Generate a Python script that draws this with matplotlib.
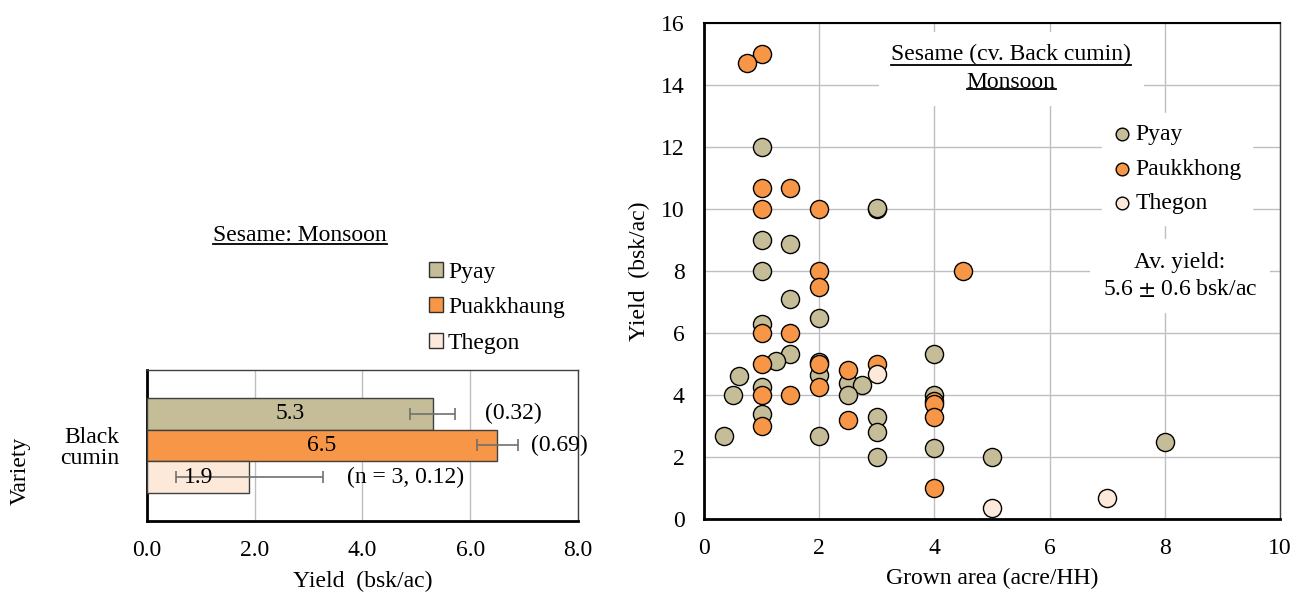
import matplotlib
matplotlib.use("Agg")
import matplotlib.pyplot as plt
from matplotlib.lines import Line2D
from matplotlib.patches import Patch

plt.rcParams["font.family"] = ["Liberation Serif", "DejaVu Serif"]
plt.rcParams["mathtext.fontset"] = "stix"
FS = 17
plt.rcParams["font.size"] = FS

# ---- left: bar chart data ----
varieties = ["Pyay", "Puakkhaung", "Thegon"]
bar_means = [5.3, 6.5, 1.9]
bar_err = [0.42, 0.38, 1.37]
bar_notes = ["(0.32)", "(0.69)", "(n = 3, 0.12)"]
note_x = [6.8, 7.65, 4.8]
crop_label = "Black\ncumin"

# ---- right: scatter data (grown area, yield) ----
pyay_x = [1, 1, 1.5, 1, 3, 3, 1.5, 2, 1, 1.5, 1.25, 0.6, 2, 2, 2.5, 2.75, 2.5, 1, 0.5,
          1, 0.35, 2, 3, 3, 3, 4, 4, 4, 5, 8]
pyay_y = [12, 9, 8.87, 8, 10, 10.02, 7.1, 6.5, 6.3, 5.33, 5.1, 4.6, 4.65, 5.05, 4.4, 4.33, 4,
          4.25, 4, 3.4, 2.67, 2.67, 3.3, 2.8, 2, 5.33, 4, 2.3, 2, 2.5]
pauk_x = [1, 0.75, 1, 1.5, 1, 2, 2, 4.5, 2, 1, 1.5, 1, 2, 2, 2.5, 3, 1, 1.5, 1, 2.5,
          4, 4, 4, 4]
pauk_y = [15, 14.7, 10.67, 10.67, 10, 10, 8, 8, 7.5, 6, 6, 5, 5, 4.25, 4.8, 5, 4, 4, 3,
          3.2, 3.8, 3.7, 3.3, 1]
theg_x = [3, 5, 7]
theg_y = [4.67, 0.37, 0.67]

colors = ["#C4BD97", "#F79646", "#FDE9D9"]
grid_c = "#BFBFBF"

fig = plt.figure(figsize=(12.93, 5.92), dpi=100)

# ---------- bar chart ----------
axb = fig.add_axes([0.1137, 0.12, 0.3333, 0.255])
ypos = [0.21, 0.0, -0.21]
axb.barh(ypos, bar_means, height=0.21, color=colors, edgecolor="#404040", linewidth=1,
         xerr=bar_err, error_kw=dict(ecolor="#707070", capsize=4, elinewidth=1.2, capthick=1.2),
         zorder=3)
for y, m, note, nx in zip(ypos, bar_means, bar_notes, note_x):
    axb.text(m / 2, y, f"{m:.1f}", ha="center", va="center", fontsize=FS, zorder=4)
    axb.text(nx, y, note, ha="center", va="center", fontsize=FS)
axb.set_xlim(0, 8)
axb.set_ylim(-0.5, 0.5)
axb.set_xticks([0, 2, 4, 6, 8])
axb.set_xticklabels([f"{v:.1f}" for v in [0, 2, 4, 6, 8]])
axb.set_yticks([0])
axb.set_yticklabels([crop_label], fontsize=FS, linespacing=1.0)
axb.tick_params(axis="x", length=0, pad=14)
axb.tick_params(axis="y", length=0, pad=20)
axb.grid(axis="x", color=grid_c, linewidth=1, zorder=0)
axb.set_axisbelow(True)
for s in ["left", "bottom"]:
    axb.spines[s].set_linewidth(2)
    axb.spines[s].set_color("black")
for s in ["top", "right"]:
    axb.spines[s].set_linewidth(1)
    axb.spines[s].set_color("#404040")
axb.set_xlabel("Yield  (bsk/ac)", fontsize=FS, labelpad=7)
fig.text(0.016, 0.205, "Variety", rotation=90, ha="center", va="center", fontsize=FS)

handles = [Patch(facecolor=c, edgecolor="#303030", linewidth=1) for c in colors]
fig.legend(handles, varieties, loc="upper left", bbox_to_anchor=(0.3227, 0.578),
           frameon=False, fontsize=FS, handlelength=0.6, handleheight=0.6,
           handletextpad=0.2, labelspacing=0.62, borderpad=0)
t_left = fig.text(0.232, 0.603, "Sesame: Monsoon", ha="center", va="center", fontsize=FS)

# ---------- scatter ----------
axs = fig.add_axes([0.5445, 0.1233, 0.4455, 0.8377])
kw = dict(s=170, edgecolors="black", linewidths=1, zorder=3)
axs.scatter(pyay_x, pyay_y, color=colors[0], label="Pyay", **kw)
axs.scatter(pauk_x, pauk_y, color=colors[1], label="Paukkhong", **kw)
axs.scatter(theg_x, theg_y, color=colors[2], label="Thegon", **kw)
axs.set_xlim(0, 10)
axs.set_ylim(0, 16)
axs.set_xticks(range(0, 11, 2))
axs.set_yticks(range(0, 17, 2))
axs.tick_params(length=0, pad=14, labelsize=FS)
axs.grid(color=grid_c, linewidth=1, zorder=0)
axs.set_axisbelow(True)
for s in ["left", "bottom"]:
    axs.spines[s].set_linewidth(2)
    axs.spines[s].set_color("black")
axs.spines["top"].set_linewidth(1.5)
axs.spines["right"].set_linewidth(1)
axs.spines["right"].set_color("#404040")
axs.set_xlabel("Grown area (acre/HH)", fontsize=FS, labelpad=6)
axs.set_ylabel("Yield  (bsk/ac)", fontsize=FS, labelpad=8)

leg = axs.legend(loc="upper left", bbox_to_anchor=(0.691, 0.8185), fontsize=FS,
                 handlelength=0.8, handletextpad=0.15, labelspacing=0.55, markerscale=0.7,
                 borderpad=0.45, borderaxespad=0, fancybox=False)
leg.get_frame().set_edgecolor("white")
leg.get_frame().set_facecolor("white")
leg.get_frame().set_alpha(1)

axs.text(0.826, 0.49, "Av. yield:\n5.6 $\\pm$ 0.6 bsk/ac", transform=axs.transAxes,
         ha="center", va="center", fontsize=FS, linespacing=1.3, zorder=5,
         bbox=dict(facecolor="white", edgecolor="none", pad=9))
t_right = axs.text(0.533, 0.908, "Sesame (cv. Back cumin)\nMonsoon", transform=axs.transAxes,
                   ha="center", va="center", fontsize=FS, linespacing=1.45, zorder=5,
                   bbox=dict(facecolor="white", edgecolor="none", pad=9))

# underline titles
fig.canvas.draw()
r = fig.canvas.get_renderer()
inv = fig.transFigure.inverted()


def underline(x0, x1, y):
    (fx0, fy), (fx1, _) = inv.transform([(x0, y), (x1, y)])
    fig.add_artist(Line2D([fx0, fx1], [fy, fy], color="black", linewidth=1.3,
                          transform=fig.transFigure, zorder=6))


bb = t_left.get_window_extent(r)
underline(bb.x0, bb.x1, bb.y0 + 2)

# two lines in right title: underline each separately
lines = t_right.get_text().split("\n")
bb = t_right.get_window_extent(r)
h = bb.height / 2
cx = (bb.x0 + bb.x1) / 2
for i, ln in enumerate(lines):
    tmp = fig.text(0, 0, ln, fontsize=FS)
    w = tmp.get_window_extent(r).width
    tmp.remove()
    ybase = bb.y1 - h * (i + 1) + 4
    underline(cx - w / 2, cx + w / 2, ybase)

fig.savefig("out.png", dpi=100)
